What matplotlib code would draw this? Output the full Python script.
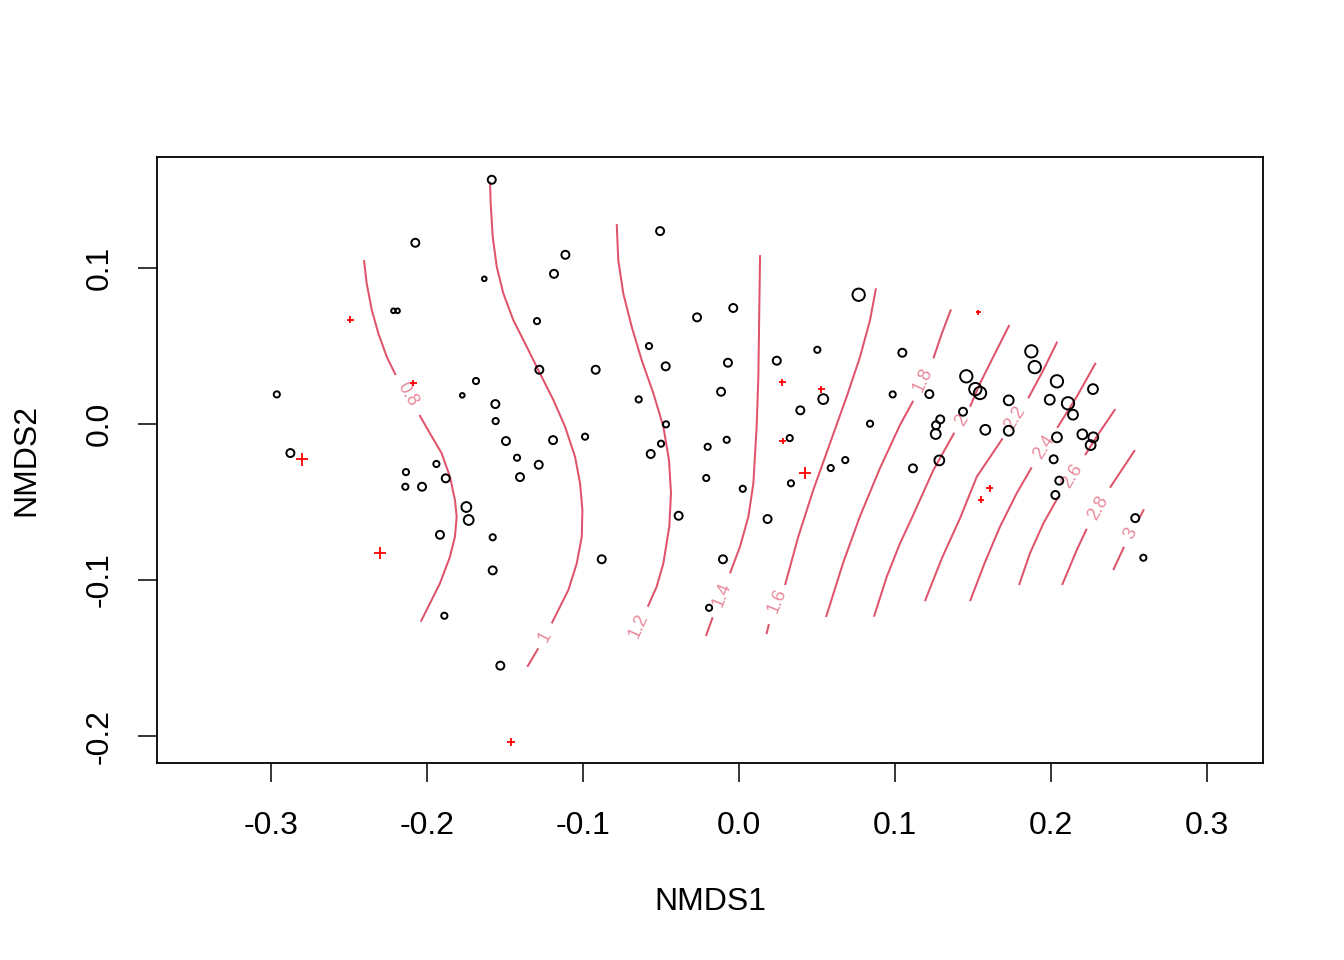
import numpy as np
import matplotlib
matplotlib.use("Agg")
import matplotlib.pyplot as plt

plt.rcParams['font.family'] = ['Liberation Sans', 'DejaVu Sans']

# ---- site scores (NMDS1, NMDS2) and symbol sizes (cex) ----
site_x = [-0.2963, -0.2876, -0.2075, -0.2215, -0.2189, -0.1940, -0.2135, -0.2139, -0.2032, -0.1880,
          -0.1917, -0.1889, -0.1774, -0.1686, -0.1633, -0.1585, -0.1562, -0.1560, -0.1494, -0.1423,
          -0.1404, -0.1284, -0.1748, -0.1733, -0.1579, -0.1579, -0.1530, -0.1295, -0.1280, -0.1192,
          -0.1186, -0.1113, -0.0987, -0.0919, -0.0880, -0.0643, -0.0577, -0.0566, -0.0506, -0.0500,
          -0.0470, -0.0468, -0.0387, -0.0269, -0.0210, -0.0201, -0.0192, -0.0115, -0.0103, -0.0079,
          -0.0071, -0.0037, 0.0024, 0.0183, 0.0242, 0.0325, 0.0333, 0.0393, 0.0502, 0.0540,
          0.0588, 0.0681, 0.0767, 0.0840, 0.0985, 0.1047, 0.1115, 0.1220, 0.1261, 0.1263,
          0.1290, 0.1284, 0.1436, 0.1457, 0.1515, 0.1545, 0.1579, 0.1729, 0.1729, 0.1874,
          0.1896, 0.1992, 0.2017, 0.2028, 0.2038, 0.2038, 0.2053, 0.2109, 0.2141, 0.2201,
          0.2254, 0.2271, 0.2269, 0.2540, 0.2592]
site_y = [0.0190, -0.0186, 0.1162, 0.0726, 0.0726, -0.0256, -0.0308, -0.0402, -0.0402, -0.0348,
          -0.0710, -0.1229, 0.0184, 0.0276, 0.0931, 0.1566, 0.0128, 0.0019, -0.0109, -0.0216,
          -0.0340, -0.0261, -0.0532, -0.0615, -0.0726, -0.0938, -0.1549, 0.0660, 0.0348, -0.0103,
          0.0963, 0.1085, -0.0081, 0.0348, -0.0867, 0.0158, 0.0500, -0.0192, 0.1237, -0.0126,
          0.0370, -0.0002, -0.0588, 0.0684, -0.0346, -0.0146, -0.1178, 0.0207, -0.0867, -0.0101,
          0.0393, 0.0744, -0.0415, -0.0609, 0.0406, -0.0090, -0.0380, 0.0088, 0.0476, 0.0160,
          -0.0282, -0.0231, 0.0829, 0.0002, 0.0190, 0.0457, -0.0284, 0.0192, -0.0064, -0.0008,
          0.0030, -0.0233, 0.0079, 0.0306, 0.0224, 0.0199, -0.0037, 0.0152, -0.0043, 0.0466,
          0.0365, 0.0156, -0.0226, -0.0455, 0.0274, -0.0085, -0.0363, 0.0133, 0.0060, -0.0066,
          -0.0135, -0.0085, 0.0224, -0.0603, -0.0857]
site_cex = [0.56, 0.69, 0.69, 0.45, 0.45, 0.56, 0.56, 0.56, 0.69, 0.69,
            0.69, 0.56, 0.45, 0.56, 0.45, 0.69, 0.69, 0.56, 0.69, 0.56,
            0.69, 0.69, 0.82, 0.82, 0.56, 0.69, 0.69, 0.56, 0.69, 0.69,
            0.69, 0.69, 0.56, 0.69, 0.69, 0.56, 0.56, 0.69, 0.69, 0.56,
            0.69, 0.56, 0.69, 0.69, 0.56, 0.56, 0.56, 0.69, 0.69, 0.56,
            0.69, 0.69, 0.56, 0.69, 0.69, 0.56, 0.56, 0.69, 0.56, 0.82,
            0.56, 0.56, 1.00, 0.56, 0.56, 0.69, 0.69, 0.69, 0.82, 0.69,
            0.69, 0.82, 0.69, 1.00, 1.00, 1.00, 0.82, 0.82, 0.82, 1.00,
            1.00, 0.82, 0.69, 0.69, 1.00, 0.82, 0.69, 1.00, 0.82, 0.82,
            0.82, 0.82, 0.82, 0.69, 0.56]

# ---- species scores (red crosses) ----
sp_x = [-0.2492, -0.2088, -0.2803, -0.2301, -0.1463, 0.0278, 0.0528, 0.0280, 0.0423, 0.1534, 0.1607, 0.1551]
sp_y = [0.0669, 0.0263, -0.0226, -0.0827, -0.2038, 0.0269, 0.0224, -0.0109, -0.0314, 0.0716, -0.0412, -0.0485]
sp_cex = [0.55, 0.55, 1.00, 1.00, 0.65, 0.55, 0.55, 0.55, 1.00, 0.38, 0.55, 0.55]

# ---- fitted surface contours: level label, segment before label (a), segment after label (b), label position ----
contour_levels = ["0.8", "1", "1.2", "1.4", "1.6", "1.8", "2", "2.2", "2.4", "2.6", "2.8", "3"]
contour_a_x = [
    [-0.2404, -0.2387, -0.2354, -0.2312, -0.2258, -0.2201],
    [-0.1596, -0.1592, -0.1579, -0.1553, -0.1511, -0.1447, -0.1361, -0.1276, -0.1190, -0.1115, -0.1051,
     -0.1019, -0.1004, -0.1008, -0.1040, -0.1094, -0.1201],
    [-0.0784, -0.0774, -0.0742, -0.0688, -0.0624, -0.0549, -0.0485, -0.0449, -0.0436, -0.0447, -0.0485, -0.0528, -0.0585],
    [0.0135, 0.0130, 0.0124, 0.0113, 0.0092, 0.0060, 0.0006, -0.0058],
    [0.0878, 0.0840, 0.0776, 0.0690, 0.0583, 0.0476, 0.0380, 0.0295],
    [0.1359, 0.1301, 0.1246],
    [0.1733, 0.1630, 0.1545, 0.1481],
    [0.2040, 0.1951, 0.1854],
    [0.2287, 0.2165, 0.2040],
    [0.2412, 0.2314, 0.2218],
    [0.2538, 0.2453, 0.2378],
    [0.2596, 0.2560],
]
contour_a_y = [
    [0.1051, 0.0902, 0.0731, 0.0581, 0.0431, 0.0314],
    [0.1553, 0.1415, 0.1201, 0.1008, 0.0838, 0.0667, 0.0496, 0.0325, 0.0154, -0.0017, -0.0210,
     -0.0380, -0.0551, -0.0722, -0.0893, -0.1064, -0.1278],
    [0.1282, 0.1051, 0.0838, 0.0624, 0.0410, 0.0197, -0.0017, -0.0231, -0.0444, -0.0658, -0.0893, -0.1043, -0.1171],
    [0.1083, 0.0731, 0.0303, -0.0017, -0.0380, -0.0594, -0.0787, -0.0957],
    [0.0870, 0.0667, 0.0431, 0.0175, -0.0124, -0.0423, -0.0722, -0.1032],
    [0.0735, 0.0583, 0.0421],
    [0.0635, 0.0431, 0.0261, 0.0111],
    [0.0528, 0.0346, 0.0165],
    [0.0393, 0.0175, -0.0024],
    [0.0096, -0.0049, -0.0199],
    [-0.0167, -0.0295, -0.0408],
    [-0.0547, -0.0615],
]
contour_b_x = [
    [-0.2049, -0.1981, -0.1906, -0.1853, -0.1821, -0.1810, -0.1821, -0.1853, -0.1917, -0.1981, -0.2040],
    [-0.1287, -0.1357],
    [],
    [-0.0169, -0.0212],
    [0.0192, 0.0176],
    [0.1117, 0.1032, 0.0904, 0.0776, 0.0667, 0.0558],
    [0.1380, 0.1246, 0.1107, 0.1032, 0.0947, 0.0865],
    [0.1690, 0.1524, 0.1417, 0.1301, 0.1192],
    [0.1876, 0.1780, 0.1673, 0.1577, 0.1481],
    [0.2047, 0.1951, 0.1865, 0.1795],
    [0.2229, 0.2165, 0.2071],
    [0.2468, 0.2399],
]
contour_b_y = [
    [0.0058, -0.0060, -0.0188, -0.0338, -0.0487, -0.0594, -0.0722, -0.0851, -0.1021, -0.1149, -0.1267],
    [-0.1438, -0.1556],
    [],
    [-0.1239, -0.1359],
    [-0.1282, -0.1346],
    [0.0149, -0.0006, -0.0282, -0.0590, -0.0891, -0.1237],
    [-0.0056, -0.0295, -0.0604, -0.0765, -0.0979, -0.1235],
    [-0.0092, -0.0338, -0.0604, -0.0859, -0.1135],
    [-0.0278, -0.0444, -0.0658, -0.0885, -0.1135],
    [-0.0466, -0.0637, -0.0829, -0.1032],
    [-0.0671, -0.0808, -0.1032],
    [-0.0787, -0.0936],
]
label_x = [-0.2125, -0.1244, -0.0647, -0.0109, 0.0244, 0.1179, 0.1429, 0.1772, 0.1958, 0.2133, 0.2304, 0.2513]
label_y = [0.0189, -0.1359, -0.1295, -0.1096, -0.1135, 0.0285, 0.0026, 0.0037, -0.0151, -0.0333, -0.0540, -0.0701]

xticks = [-0.3, -0.2, -0.1, 0.0, 0.1, 0.2, 0.3]
yticks = [-0.2, -0.1, 0.0, 0.1]

LINE_COL = "#DF536B"
LABEL_COL = "#E8899B"
PX = 0.72  # points per pixel at dpi 100

fig = plt.figure(figsize=(13.44, 9.6), dpi=100)
ax = fig.add_axes([157/1344, 1 - 763/960, (1263-157)/1344, (763-157)/960])
ax.set_xlim(-0.3731, 0.3359)
ax.set_ylim(-0.2173, 0.1712)

# sites
sizes = [(c * 14 * PX - 1.2) ** 2 for c in site_cex]
ax.scatter(site_x, site_y, s=sizes, facecolors='none', edgecolors='black', linewidths=1.4, zorder=3)

# species
sp_sizes = [(c * 12.5 * PX) ** 2 for c in sp_cex]
ax.scatter(sp_x, sp_y, s=sp_sizes, marker='+', c='#FF0000', linewidths=1.3, zorder=3)

# contours
for i, lab in enumerate(contour_levels):
    ax.plot(contour_a_x[i], contour_a_y[i], color=LINE_COL, lw=1.45, zorder=2,
            solid_capstyle='butt', solid_joinstyle='round')
    if contour_b_x[i]:
        ax.plot(contour_b_x[i], contour_b_y[i], color=LINE_COL, lw=1.45, zorder=2,
                solid_capstyle='butt', solid_joinstyle='round')
        p0 = (contour_a_x[i][-1], contour_a_y[i][-1])
        p1 = (contour_b_x[i][0], contour_b_y[i][0])
    else:
        p0 = (contour_a_x[i][-2], contour_a_y[i][-2])
        p1 = (contour_a_x[i][-1], contour_a_y[i][-1])
    d0 = ax.transData.transform(p0)
    d1 = ax.transData.transform(p1)
    ang = np.degrees(np.arctan2(d1[1] - d0[1], d1[0] - d0[0]))
    if ang > 90:
        ang -= 180
    elif ang <= -90:
        ang += 180
    ax.text(label_x[i], label_y[i], lab, rotation=ang, rotation_mode='anchor',
            ha='center', va='center', fontsize=13, color=LABEL_COL, zorder=2)

# axes styling
for sp in ax.spines.values():
    sp.set_linewidth(1.3)
ax.set_xticks(xticks)
ax.set_xticklabels(["%.1f" % v for v in xticks])
ax.set_yticks(yticks)
ax.set_yticklabels(["%.1f" % v for v in yticks], rotation=90, va='center')
ax.tick_params(axis='both', direction='out', length=13.7, width=1.1, labelsize=23, color='black')
ax.tick_params(axis='x', pad=21)
ax.tick_params(axis='y', pad=17)

ax.set_xlabel("NMDS1", fontsize=23, va='center')
ax.xaxis.set_label_coords(0.5, -(902 - 763) / 606)
ax.set_ylabel("NMDS2", fontsize=23, va='center', ha='center')
ax.yaxis.set_label_coords((26 - 157) / 1106, 0.5)

fig.savefig("out.png", dpi=100, facecolor='white')
